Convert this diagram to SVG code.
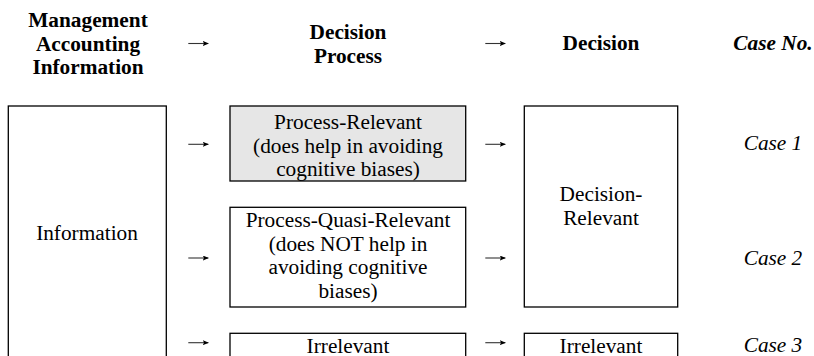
<svg xmlns="http://www.w3.org/2000/svg" width="814" height="356" viewBox="0 0 814 356">
<style>
text{font-family:"Liberation Serif","Times New Roman",serif;font-size:21.3px;fill:#000;text-anchor:middle}
.h{font-weight:bold}
.i{font-style:italic}
.box{fill:#fff;stroke:#000;stroke-width:1.3}
.gray{fill:#e6e6e6}
.arr{stroke:#333;stroke-width:1.1;fill:none}
</style>
<defs>
<marker id="ah" viewBox="0 0 6 5" refX="5.5" refY="2.5" markerWidth="6" markerHeight="5" markerUnits="userSpaceOnUse" orient="auto">
<path d="M0,0 L6,2.5 L0,5 L1.2,2.5 Z" fill="#000"/>
</marker>
</defs>
<rect width="814" height="356" fill="#fff"/>
<g id="header">
<text class="h" x="88" y="26.5">Management</text>
<text class="h" x="88" y="50.5">Accounting</text>
<text class="h" x="88" y="74">Information</text>
<text class="h" x="348" y="39">Decision</text>
<text class="h" x="348" y="63">Process</text>
<text class="h" x="601" y="50">Decision</text>
<text class="h i" x="773" y="50">Case No.</text>
</g>
<g id="connectors">
<path class="arr" marker-end="url(#ah)" d="M188.3,43.5 H208.3"/>
<path class="arr" marker-end="url(#ah)" d="M485.3,43.5 H505.3"/>
<path class="arr" marker-end="url(#ah)" d="M188.3,144.3 H208.3"/>
<path class="arr" marker-end="url(#ah)" d="M485.3,144.3 H505.3"/>
<path class="arr" marker-end="url(#ah)" d="M188.3,258 H208.3"/>
<path class="arr" marker-end="url(#ah)" d="M485.3,258 H505.3"/>
<path class="arr" marker-end="url(#ah)" d="M188.3,342.7 H208.3"/>
<path class="arr" marker-end="url(#ah)" d="M485.3,342.7 H505.3"/>
</g>
<g id="information">
<rect class="box" x="8.3" y="106" width="158" height="260"/>
<text x="87" y="240">Information</text>
</g>
<g id="process-relevant">
<rect class="box gray" x="230" y="106" width="235.7" height="75"/>
<text x="348" y="129">Process-Relevant</text>
<text x="348" y="152.5">(does help in avoiding</text>
<text x="348" y="176">cognitive biases)</text>
</g>
<g id="process-quasi-relevant">
<rect class="box" x="230" y="207.3" width="235.7" height="99.7"/>
<text x="348" y="227">Process-Quasi-Relevant</text>
<text x="348" y="250.5">(does NOT help in</text>
<text x="348" y="274">avoiding cognitive</text>
<text x="348" y="297.5">biases)</text>
</g>
<g id="process-irrelevant">
<rect class="box" x="230" y="333.3" width="235.7" height="40"/>
<text x="348" y="352.5">Irrelevant</text>
</g>
<g id="decision-relevant">
<rect class="box" x="524.3" y="106" width="153.4" height="201"/>
<text x="601" y="201">Decision-</text>
<text x="601" y="224.5">Relevant</text>
</g>
<g id="decision-irrelevant">
<rect class="box" x="524.3" y="333.3" width="153.4" height="40"/>
<text x="601" y="352.5">Irrelevant</text>
</g>
<g id="cases">
<text class="i" x="773" y="150">Case 1</text>
<text class="i" x="773" y="265">Case 2</text>
<text class="i" x="773" y="351.5">Case 3</text>
</g>
</svg>
